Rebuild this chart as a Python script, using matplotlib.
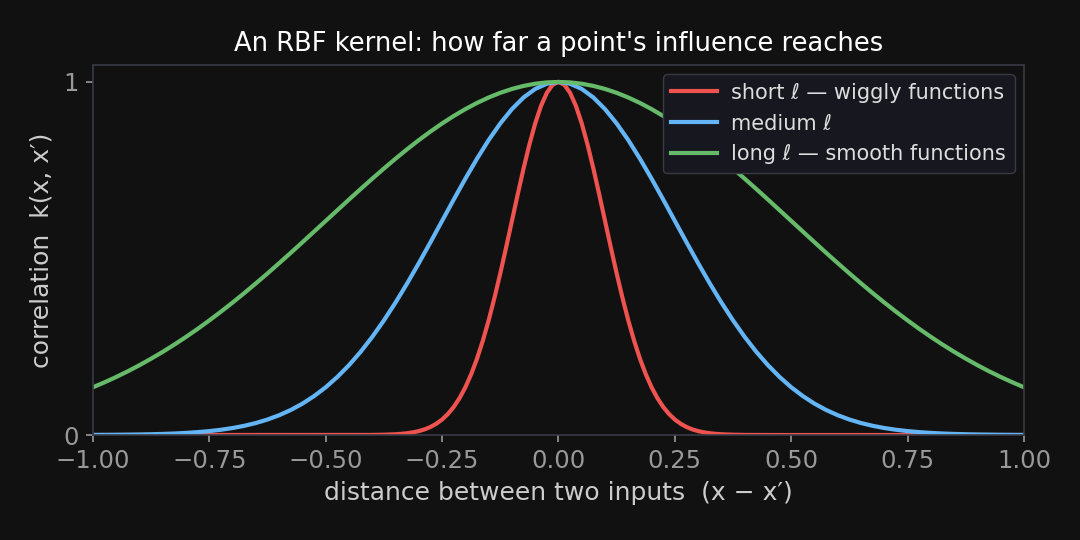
import numpy as np
import matplotlib
matplotlib.use("Agg")
import matplotlib.pyplot as plt

# distance grids, -1 .. 1
dist = np.arange(-40, 41) * 0.025        # step 0.025
dist_fine = np.arange(-80, 81) * 0.0125  # step 0.0125, for the narrow kernel

# kernel values (symmetric around 0)
short_k = ([0.0] * 45 +
           [0.0001, 0.0001, 0.0002, 0.0003, 0.0005, 0.0009, 0.0014, 0.0022, 0.0034, 0.0051,
            0.0076, 0.0111, 0.0160, 0.0228, 0.0319, 0.0439, 0.0596, 0.0796, 0.1046, 0.1353,
            0.1724, 0.2163, 0.2671, 0.3247, 0.3886, 0.4578, 0.5311, 0.6065, 0.6819, 0.7548,
            0.8226, 0.8825, 0.9321, 0.9692, 0.9922,
            1.0,
            0.9922, 0.9692, 0.9321, 0.8825, 0.8226,
            0.7548, 0.6819, 0.6065, 0.5311, 0.4578, 0.3886, 0.3247, 0.2671, 0.2163, 0.1724,
            0.1353, 0.1046, 0.0796, 0.0596, 0.0439, 0.0319, 0.0228, 0.0160, 0.0111, 0.0076,
            0.0051, 0.0034, 0.0022, 0.0014, 0.0009, 0.0005, 0.0003, 0.0002, 0.0001, 0.0001] +
           [0.0] * 45)

medium_k = [0.0003, 0.0005, 0.0007, 0.0011, 0.0015, 0.0022, 0.0031, 0.0043, 0.0060, 0.0082,
            0.0111, 0.0149, 0.0198, 0.0261, 0.0340, 0.0439, 0.0561, 0.0710, 0.0889, 0.1103,
            0.1353, 0.1645, 0.1979, 0.2357, 0.2780, 0.3247, 0.3753, 0.4296, 0.4868, 0.5461,
            0.6065, 0.6670, 0.7261, 0.7827, 0.8353, 0.8825, 0.9231, 0.9560, 0.9802, 0.9950,
            1.0,
            0.9950, 0.9802, 0.9560, 0.9231, 0.8825, 0.8353, 0.7827, 0.7261, 0.6670, 0.6065,
            0.5461, 0.4868, 0.4296, 0.3753, 0.3247, 0.2780, 0.2357, 0.1979, 0.1645, 0.1353,
            0.1103, 0.0889, 0.0710, 0.0561, 0.0439, 0.0340, 0.0261, 0.0198, 0.0149, 0.0111,
            0.0082, 0.0060, 0.0043, 0.0031, 0.0022, 0.0015, 0.0011, 0.0007, 0.0005, 0.0003]

long_k = [0.1353, 0.1494, 0.1645, 0.1806, 0.1979, 0.2163, 0.2357, 0.2563, 0.2780, 0.3008,
          0.3247, 0.3495, 0.3753, 0.4020, 0.4296, 0.4578, 0.4868, 0.5162, 0.5461, 0.5763,
          0.6065, 0.6368, 0.6670, 0.6968, 0.7261, 0.7548, 0.7827, 0.8096, 0.8353, 0.8596,
          0.8825, 0.9037, 0.9231, 0.9406, 0.9560, 0.9692, 0.9802, 0.9888, 0.9950, 0.9988,
          1.0,
          0.9988, 0.9950, 0.9888, 0.9802, 0.9692, 0.9560, 0.9406, 0.9231, 0.9037, 0.8825,
          0.8596, 0.8353, 0.8096, 0.7827, 0.7548, 0.7261, 0.6968, 0.6670, 0.6368, 0.6065,
          0.5763, 0.5461, 0.5162, 0.4868, 0.4578, 0.4296, 0.4020, 0.3753, 0.3495, 0.3247,
          0.3008, 0.2780, 0.2563, 0.2357, 0.2163, 0.1979, 0.1806, 0.1645, 0.1494, 0.1353]

labels = ["short \u2113 \u2014 wiggly functions", "medium \u2113",
          "long \u2113 \u2014 smooth functions"]
colors = ["#ef5350", "#64b5f6", "#66bb6a"]

bg = "#111111"
fig = plt.figure(figsize=(10.8, 5.4), dpi=100, facecolor=bg)
ax = fig.add_axes([0.0861, 0.1944, 0.8620, 0.6852])
ax.set_facecolor(bg)

series = [(dist_fine, short_k), (dist, medium_k), (dist, long_k)]
for (xs, k), lab, c in zip(series, labels, colors):
    ax.plot(xs, k, color=c, lw=3.0, label=lab, solid_joinstyle="round")

ax.set_xlim(-1, 1)
ax.set_ylim(0, 1.048)
ax.set_xticks([-1, -0.75, -0.5, -0.25, 0, 0.25, 0.5, 0.75, 1])
ax.set_xticklabels(["\u22121.00", "\u22120.75", "\u22120.50", "\u22120.25", "0.00",
                    "0.25", "0.50", "0.75", "1.00"])
ax.set_yticks([0, 1])
ax.set_yticklabels(["0", "1"])
ax.tick_params(colors="#999999", labelsize=17.5, length=5, width=1.2, pad=5)
for s in ax.spines.values():
    s.set_color("#3a3a46")
    s.set_linewidth(1.2)

ax.set_title("An RBF kernel: how far a point's influence reaches",
             color="white", fontsize=18.5, pad=10)
ax.set_xlabel("distance between two inputs  (x \u2212 x\u2032)", color="#cccccc", fontsize=18, labelpad=6)
ax.set_ylabel("correlation  k(x, x\u2032)", color="#cccccc", fontsize=18, labelpad=7)

leg = ax.legend(loc="upper right", fontsize=15, facecolor="#17171f", edgecolor="#3a3a46",
                labelcolor="#dddddd", framealpha=1.0, handlelength=2.2,
                borderaxespad=0.45, borderpad=0.4, labelspacing=0.52, handletextpad=0.7)

fig.savefig("out.png", dpi=100, facecolor=bg)
